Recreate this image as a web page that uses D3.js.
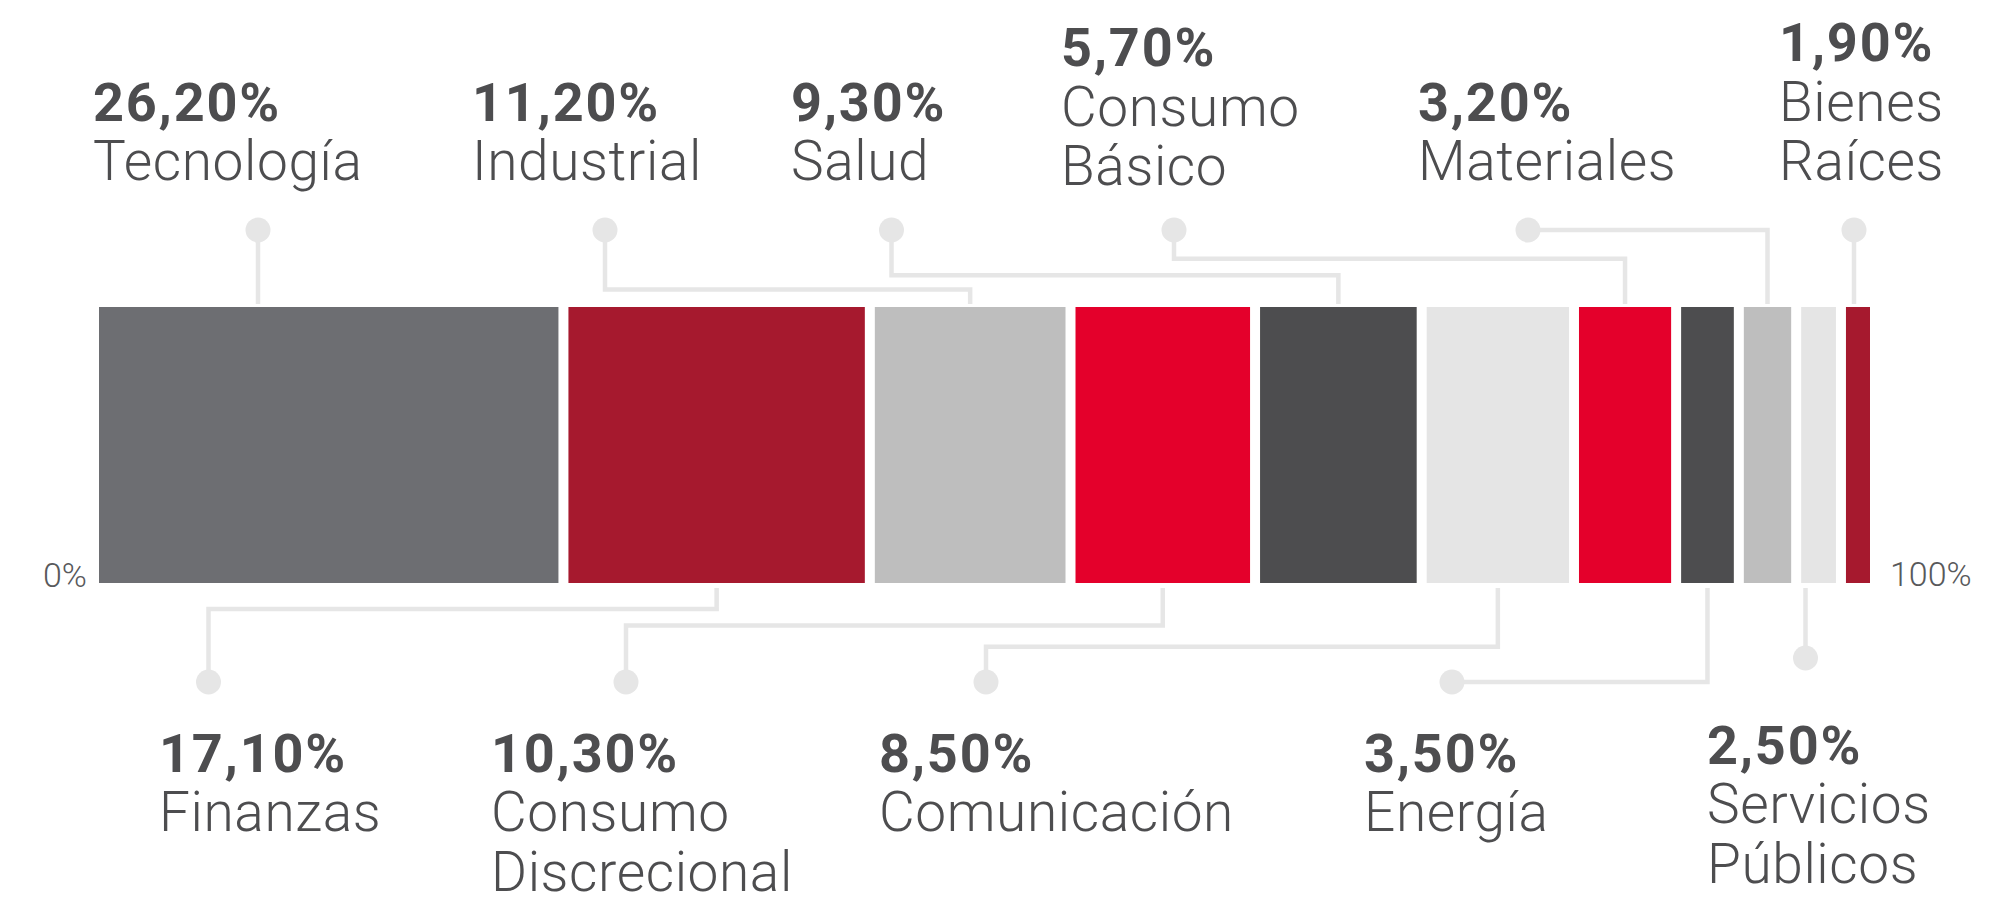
<!DOCTYPE html>
<html>
<head>
<meta charset="utf-8">
<script src="https://cdn.jsdelivr.net/npm/d3@7"></script>
<style>
  html, body { margin: 0; padding: 0; background: #ffffff; }
  svg { display: block; font-family: Roboto, "Noto Sans", "DejaVu Sans", sans-serif; }
</style>
</head>
<body>
<svg id="chart" width="1994" height="897"></svg>
<script>
// ---- data ----
const categories = ["Tecnología", "Finanzas", "Industrial", "Consumo Discrecional", "Salud",
  "Comunicación", "Consumo Básico", "Energía", "Materiales", "Servicios Públicos", "Bienes Raíces"];
const values = [26.2, 17.1, 11.2, 10.3, 9.3, 8.5, 5.7, 3.5, 3.2, 2.5, 1.9];
const colors = ["#6d6e72", "#a6192e", "#bebebe", "#e4002b", "#4d4d4f",
  "#e5e5e5", "#e4002b", "#4d4d4f", "#bebebe", "#e5e5e5", "#a6192e"];
const axisLabels = ["0%", "100%"];

// ---- annotation layout (label anchor, dot, elbow level) ----
const labelSide = ["top", "bottom", "top", "bottom", "top", "bottom", "top", "bottom", "top", "bottom", "top"];
const labelX   = [93, 159, 472, 491, 791, 879, 1061, 1364, 1418, 1707, 1779];
const dotX     = [258, 208.5, 605, 626, 891.5, 986, 1174, 1452, 1528, 1805.5, 1854];
const dotY     = [230, 682, 230, 682, 230, 682, 230, 682, 230, 658, 230];
const elbowY   = [null, 609, 289.5, 625.5, 275.3, 646.7, 258.7, 682, 230, null, null];
const baseY    = [180, 772, 180, 772, 180, 772, 185, 772, 180, 764, 180]; // top: last line, bottom: first line

// ---- geometry ----
const W = 1994, H = 897;
const barTop = 307, barBottom = 583, gap = 10;
const lineH = 59.3;
const total = d3.sum(values);
const x = d3.scaleLinear().domain([0, total]).range([99, 1870 + gap]);

const svg = d3.select("#chart");
const starts = d3.cumsum([0].concat(values.slice(0, -1)));
const data = categories.map((c, i) => ({
  name: c, value: values[i], color: colors[i], start: starts[i], i
}));

// connectors
const lineColor = "#e6e6e6";
const conn = svg.append("g");
data.forEach(d => {
  const i = d.i;
  const bx = x(d.start) + (x(d.start + d.value) - gap - x(d.start)) / 2;
  const p = d3.path();
  const endY = labelSide[i] === "top" ? barTop - 3 : barBottom + 5;
  p.moveTo(dotX[i], dotY[i]);
  if (elbowY[i] === null) {
    p.lineTo(dotX[i], endY);
  } else {
    p.lineTo(dotX[i], elbowY[i]);
    p.lineTo(bx, elbowY[i]);
    p.lineTo(bx, endY);
  }
  conn.append("path").attr("d", p.toString())
    .attr("fill", "none").attr("stroke", lineColor).attr("stroke-width", 4.5)
    .attr("stroke-linejoin", "miter");
  conn.append("circle").attr("cx", dotX[i]).attr("cy", dotY[i]).attr("r", 12.5).attr("fill", lineColor);
});

// bars
svg.append("g").selectAll("rect").data(data).join("rect")
  .attr("x", d => x(d.start))
  .attr("y", barTop)
  .attr("width", d => x(d.start + d.value) - x(d.start) - gap)
  .attr("height", barBottom - barTop)
  .attr("fill", d => d.color);

// axis end labels
svg.append("text").attr("x", x(0) - 12).attr("y", 587)
  .attr("text-anchor", "end").attr("font-size", 34).attr("font-weight", 300)
  .attr("fill", "#58595b").text(axisLabels[0]);
svg.append("text").attr("x", x(total) - gap + 20).attr("y", 586)
  .attr("text-anchor", "start").attr("font-size", 34).attr("font-weight", 300)
  .attr("fill", "#58595b").text(axisLabels[1]);

// labels
const fmt = v => v.toFixed(2).replace(".", ",") + "%";
const textColor = "#4d4d4f";
data.forEach(d => {
  const i = d.i;
  const nameLines = d.name.split(" ");
  const lines = [{ t: fmt(d.value), bold: true }].concat(nameLines.map(t => ({ t, bold: false })));
  let y0;
  if (labelSide[i] === "top") y0 = baseY[i] - (lines.length - 1) * lineH;
  else y0 = baseY[i];
  const g = svg.append("text").attr("fill", textColor);
  lines.forEach((ln, k) => {
    g.append("tspan")
      .attr("x", labelX[i])
      .attr("y", y0 + k * lineH)
      .attr("font-size", ln.bold ? 54 : 55)
      .attr("font-weight", ln.bold ? 700 : 300)
      .attr("letter-spacing", ln.bold ? 1.8 : 0.6)
      .text(ln.t);
  });
});
</script>
</body>
</html>
